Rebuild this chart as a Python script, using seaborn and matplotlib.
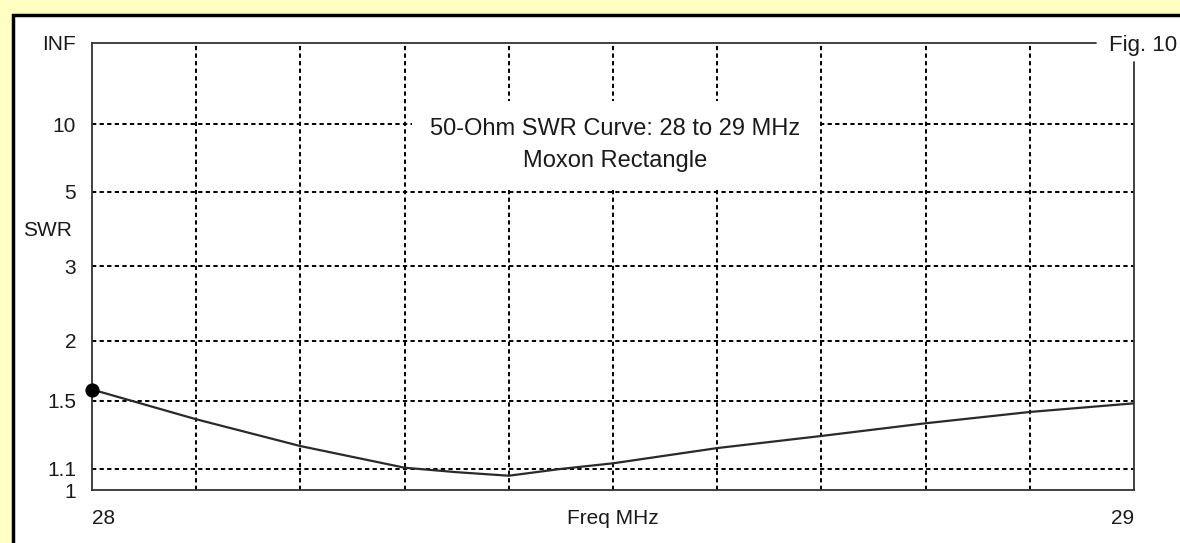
import numpy as np
import pandas as pd
import seaborn as sns
from matplotlib import pyplot as plt
from matplotlib import patches
from matplotlib.ticker import FixedLocator, MultipleLocator

# SWR values
freq = [28.0, 28.1, 28.2, 28.3, 28.35, 28.4, 28.45, 28.5, 28.6, 28.7, 28.8, 28.9, 29.0]
swr = [1.58, 1.376, 1.218, 1.105, 1.083, 1.066, 1.099, 1.127, 1.207, 1.275, 1.351, 1.423, 1.481]

swr_ticks = [1, 1.1, 1.5, 2, 3, 5, 10, 1e12]
swr_labels = ['1', '1.1', '1.5', '2', '3', '5', '10', 'INF']
freq_ticks = [28, 29]
freq_labels = ['28', '29']

df = pd.DataFrame({'freq': freq, 'swr': swr})

sns.set_style('white')
plt.rcParams['font.family'] = ['Liberation Sans', 'DejaVu Sans']

# SWR axis is linear in reflection coefficient
def fwd(s):
    s = np.asarray(s, dtype=float)
    return 1 - 2 / (s + 1)

def inv(r):
    r = np.clip(np.asarray(r, dtype=float), -0.999999, 1 - 1e-12)
    return (1 + r) / (1 - r)

fig = plt.figure(figsize=(11.8, 5.43), dpi=100)
fig.patch.set_facecolor('#ffffc4')
panel = patches.Rectangle((13 / 1180, -0.1), 1.2, 528 / 543 + 0.1, transform=fig.transFigure,
                          facecolor='white', edgecolor='black', linewidth=2.5, zorder=-1)
fig.add_artist(panel)

ax = fig.add_axes([92 / 1180, 53 / 543, 1042 / 1180, 447 / 543])
ax.set_facecolor('white')

line = sns.lineplot(x='freq', y='swr', data=df, ax=ax, color='#2a2a2a', linewidth=1.6)
ax.scatter(freq[:1], swr[:1], s=85, color='black', zorder=5, clip_on=False)

ax.set_yscale('function', functions=(fwd, inv))
ax.set_ylim(1, 1e12)
ax.set_xlim(28, 29)
ax.yaxis.set_major_locator(FixedLocator(swr_ticks))
ax.set_yticklabels(swr_labels)
ax.yaxis.set_minor_locator(FixedLocator([]))
ax.set_xticks(freq_ticks)
ax.set_xticklabels(freq_labels)
ax.xaxis.set_minor_locator(MultipleLocator(0.1))
xl = ax.get_xticklabels()
xl[0].set_ha('left')
xl[1].set_ha('right')

ax.tick_params(axis='y', length=0, pad=11.5, labelsize=15, labelcolor='#1a1a1a')
ax.tick_params(axis='x', which='both', length=0, pad=13.5, labelsize=15, labelcolor='#1a1a1a')

grid_style = dict(color='black', linewidth=1.4, linestyle=(0, (2.2, 1.7)))
ax.grid(which='major', axis='y', **grid_style)
ax.grid(which='minor', axis='x', **grid_style)
ax.grid(which='major', axis='x', visible=False)
yg = ax.yaxis.get_gridlines()
yg[0].set_visible(False)
yg[-1].set_visible(False)

for side in ['top', 'right']:
    ax.spines[side].set_visible(False)
for side in ['left', 'bottom']:
    ax.spines[side].set_color('#333333')
    ax.spines[side].set_linewidth(1.3)
# broken top and right frame around "Fig. 10"
ax.plot([0, (1096 - 92) / 1042], [1, 1], transform=ax.transAxes, color='#333333', lw=1.3, clip_on=False)
ax.plot([1, 1], [0, (490 - 62) / 447], transform=ax.transAxes, color='#333333', lw=1.3, clip_on=False)

ax.set_xlabel('Freq MHz', fontsize=15, color='#1a1a1a', va='center')
ax.xaxis.set_label_coords(0.5, -(519 - 490) / 447)
ax.set_ylabel('SWR', fontsize=15, color='#1a1a1a', rotation=0, ha='left', va='center')
ax.yaxis.set_label_coords((23 - 92) / 1042, (490 - 231) / 447)

ax.text((615 - 92) / 1042, (490 - 145) / 447, '50-Ohm SWR Curve: 28 to 29 MHz\nMoxon Rectangle',
        transform=ax.transAxes, ha='center', va='center', fontsize=17, color='#1a1a1a',
        linespacing=1.55, zorder=4,
        bbox=dict(boxstyle='square,pad=0.75', facecolor='white', edgecolor='none'))

fig.text(1109 / 1180, (543 - 46) / 543, 'Fig. 10', ha='left', va='center', fontsize=16, color='#1a1a1a')

fig.savefig('out.png', dpi=100)
plt.close()
